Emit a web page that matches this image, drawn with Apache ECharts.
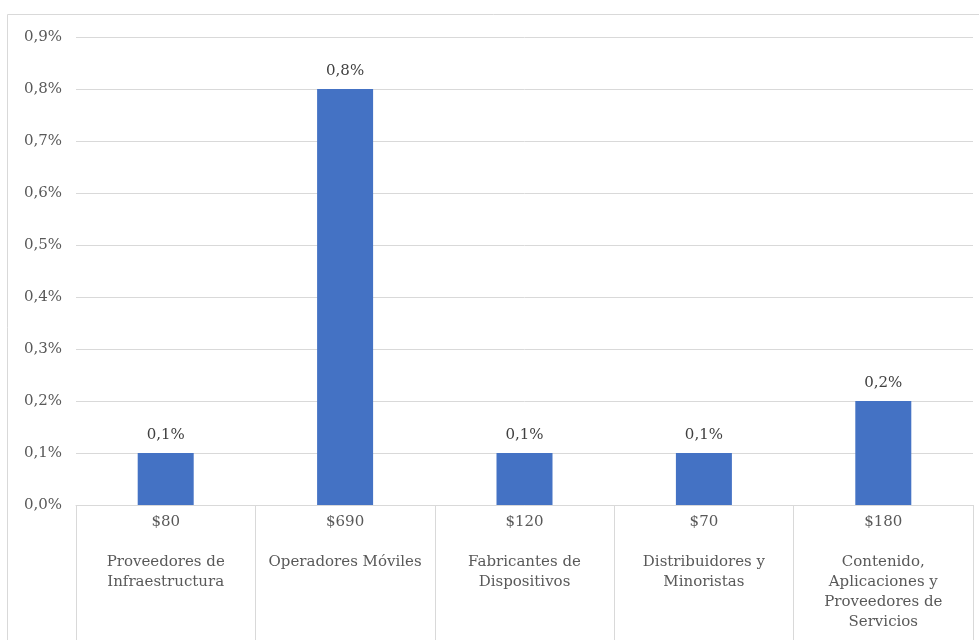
<!DOCTYPE html>
<html>
<head>
<meta charset="utf-8">
<script src="https://cdn.jsdelivr.net/npm/echarts@6/dist/echarts.min.js"></script>
<style>
  html, body { margin: 0; padding: 0; background: #fff; }
  #chart { width: 979px; height: 640px; }
</style>
</head>
<body>
<div id="chart"></div>
<script>
// datos del grafico
var montos = ['$80', '$690', '$120', '$70', '$180'];
var segmentos = [
  'Proveedores de\nInfraestructura',
  'Operadores Móviles',
  'Fabricantes de\nDispositivos',
  'Distribuidores y\nMinoristas',
  'Contenido,\nAplicaciones y\nProveedores de\nServicios'
];
var valores = [0.1, 0.8, 0.1, 0.1, 0.2];

var categorias = montos.map(function (m, i) {
  return m + '\n\n' + segmentos[i];
});

function pct(v) {
  return v.toFixed(1).replace('.', ',') + '%';
}

var chart = echarts.init(document.getElementById('chart'));

var serif = '"DejaVu Serif", "Liberation Serif", serif';

var option = {
  animation: false,
  graphic: [{
    type: 'rect',
    shape: { x: 7.5, y: 14.5, width: 990, height: 640 },
    style: { fill: 'none', stroke: '#d9d9d9', lineWidth: 1 },
    silent: true
  }],
  grid: {
    left: 76,
    right: 6,
    top: 37,
    bottom: 135
  },
  xAxis: {
    type: 'category',
    data: categorias,
    axisLine: { show: true, lineStyle: { color: '#d9d9d9' } },
    axisTick: {
      show: true,
      interval: 0,
      length: 140,
      lineStyle: { color: '#d9d9d9' }
    },
    axisLabel: {
      interval: 0,
      margin: 7,
      color: '#595959',
      fontFamily: serif,
      fontSize: 15,
      lineHeight: 20,
      align: 'center'
    }
  },
  yAxis: {
    type: 'value',
    min: 0,
    max: 0.9,
    interval: 0.1,
    axisLine: { show: false },
    axisTick: { show: false },
    axisLabel: {
      margin: 14,
      color: '#595959',
      fontFamily: serif,
      fontSize: 15,
      formatter: function (v) { return pct(v); }
    },
    splitLine: { lineStyle: { color: '#d9d9d9' } }
  },
  series: [{
    type: 'bar',
    data: valores,
    barWidth: 56,
    itemStyle: { color: '#4472c4' },
    label: {
      show: true,
      position: 'top',
      distance: 10,
      color: '#404040',
      fontFamily: serif,
      fontSize: 15,
      formatter: function (p) { return pct(p.value); }
    }
  }]
};

chart.setOption(option);
</script>
</body>
</html>
